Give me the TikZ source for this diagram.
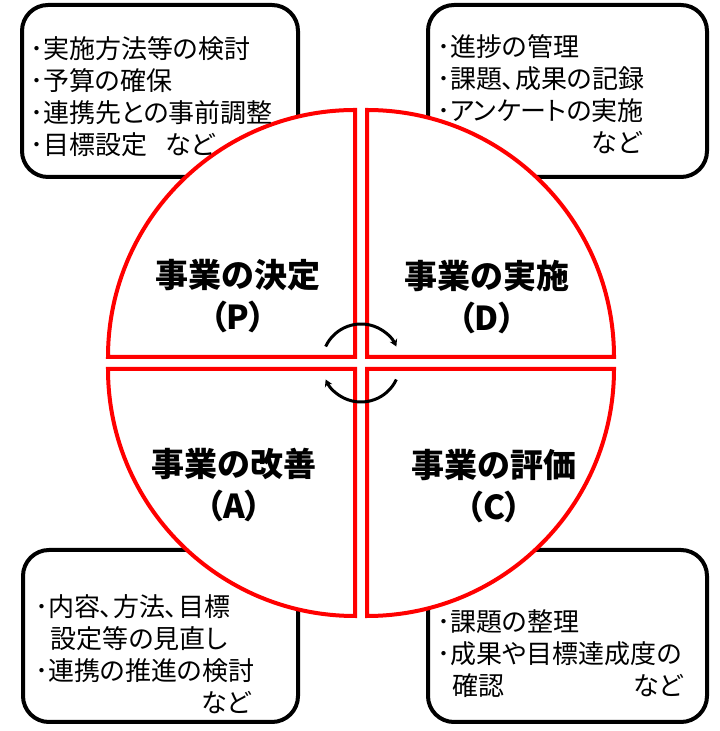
\documentclass[tikz,border=0pt]{standalone}
\usepackage{fontspec}
\setmainfont{Noto Sans CJK JP}[RawFeature=+palt]
\usetikzlibrary{arrows.meta}

\newcommand{\memofont}{\fontsize{26bp}{32bp}\selectfont}
\newcommand{\stagefont}{\fontsize{33bp}{42bp}\selectfont\bfseries}

\begin{document}
\begin{tikzpicture}[x=1bp,y=1bp,
    memobox/.style={draw=black,line width=4bp,rounded corners=26bp,fill=white},
    quarter/.style={draw=red,line width=4bp,fill=white},
    turn/.style={draw=black,line width=3bp,-{Stealth[length=7bp,width=8bp]}}]

      \useasboundingbox (0,0) rectangle (720,731);

      % boxes behind the circle
      \draw[memobox] (22,554) rectangle (298,726);
      \draw[memobox] (428,554) rectangle (707,726);
      \draw[memobox] (23,9) rectangle (298,181);
      \draw[memobox] (428,9) rectangle (707,181);

      % the four quarters
      \coordinate (cP) at (355,374);
      \coordinate (cD) at (367,374);
      \coordinate (cA) at (355,362);
      \coordinate (cC) at (367,362);
      \draw[quarter] (cP) -- ++(-247,0) arc[start angle=180,end angle=90,radius=247bp] -- cycle;
      \draw[quarter] (cD) -- ++(0,247) arc[start angle=90,end angle=0,radius=247bp] -- cycle;
      \draw[quarter] (cC) -- ++(247,0) arc[start angle=0,end angle=-90,radius=247bp] -- cycle;
      \draw[quarter] (cA) -- ++(0,-247) arc[start angle=270,end angle=180,radius=247bp] -- cycle;

      % cycle arrows
      \coordinate (hub) at (361,368);
      \draw[turn] ([shift={(155:39bp)}]hub) arc[start angle=155,end angle=25,radius=39bp];
      \draw[turn] ([shift={(-25:39bp)}]hub) arc[start angle=-25,end angle=-155,radius=39bp];

      \begin{scope}[every node/.style={font=\stagefont,align=center}]
        \node (plan)  at (238,435) {事業の決定\\（P）};
        \node (do)    at (487,434) {事業の実施\\（D）};
        \node (act)   at (234,246) {事業の改善\\（A）};
        \node (check) at (494,245) {事業の評価\\（C）};
      \end{scope}

      \begin{scope}[every node/.style={font=\memofont,align=left,anchor=north west,inner sep=0pt}]
        \node (planmemo)  at (30,695)  {･実施方法等の検討\\･予算の確保\\･連携先との事前調整\\･目標設定\hspace{0.7em}など};
        \node (domemo)    at (437,697) {･進捗の管理\\･課題、成果の記録\\･アンケートの実施\\\hspace*{5.95em}など};
        \node (actmemo)   at (35,137)  {･内容、方法、目標\\\hspace*{0.6em}設定等の見直し\\･連携の推進の検討\\\hspace*{6.4em}など};
        \node (checkmemo) at (437,122) {･課題の整理\\･成果や目標達成度の\\\hspace*{0.6em}確認\hspace{4.95em}など};
      \end{scope}

    \end{tikzpicture}
\end{document}
